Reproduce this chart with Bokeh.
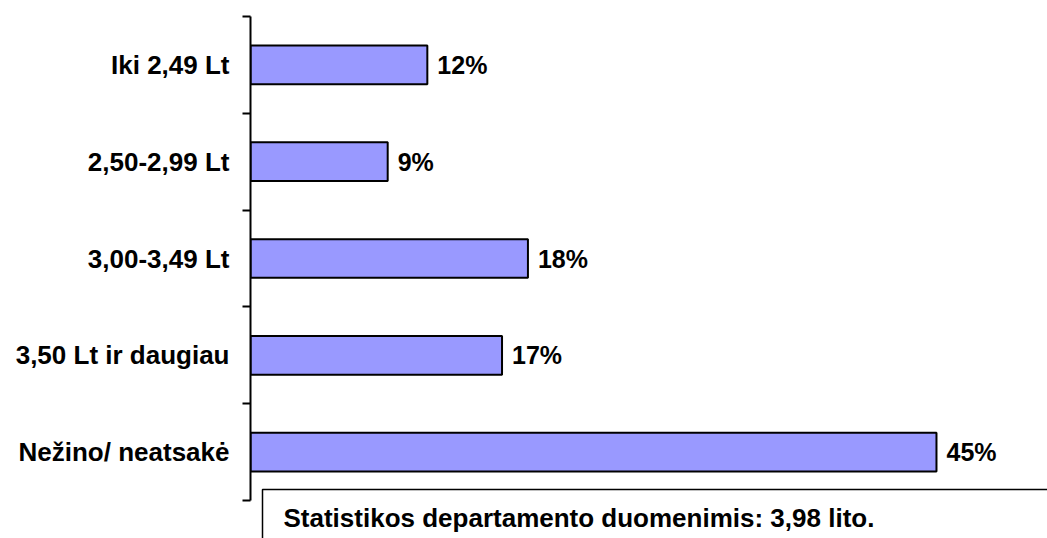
from bokeh.plotting import figure
from bokeh.models import Range1d, FixedTicker, Label, ColumnDataSource
from bokeh.embed import file_html
from bokeh.resources import INLINE
from bokeh.core.properties import value

categories = ["Iki 2,49 Lt", "2,50-2,99 Lt", "3,00-3,49 Lt", "3,50 Lt ir daugiau", "Nežino/ neatsakė"]
values = [11.6, 9.0, 18.2, 16.5, 45.0]
value_labels = ["12%", "9%", "18%", "17%", "45%"]
note = "Statistikos departamento duomenimis: 3,98 lito."

n = len(categories)
pos = [n - i - 0.5 for i in range(n)]

FONT = "Liberation Sans"

# frame: top at 16px, category band ~96.8px, frame runs to the canvas bottom
band = 96.8
width, height = 1047, 538
frame_h = height - 16
y_start = n - frame_h / band
px_per_unit = 15.244
x_end = (width - 250) / px_per_unit

p = figure(width=width, height=height, output_backend="svg", toolbar_location=None,
           x_range=Range1d(0, x_end), y_range=Range1d(y_start, n),
           x_axis_location=None, min_border_left=250, min_border_right=0,
           min_border_top=16, min_border_bottom=0)
p.outline_line_color = None
p.xgrid.visible = False
p.ygrid.visible = False
p.background_fill_color = "white"
p.border_fill_color = "white"

src = ColumnDataSource(dict(y=pos, v=values, lab=value_labels))
p.hbar(y="y", left=0, right="v", height=0.4, source=src,
       fill_color="#9999FF", line_color="black", line_width=2)
p.text(x="v", y="y", text="lab", source=src, x_offset=10,
       text_baseline="middle", text_align="left",
       text_font=value(FONT), text_font_style="bold", text_font_size="25px",
       text_color="black")

ax = p.yaxis[0]
ax.bounds = (0, n)
ax.ticker = FixedTicker(ticks=pos, minor_ticks=list(range(n + 1)))
ax.major_label_overrides = {pv: c for pv, c in zip(pos, categories)}
ax.major_tick_out = 0
ax.major_tick_in = 0
ax.minor_tick_out = 8
ax.minor_tick_in = 0
ax.minor_tick_line_color = "black"
ax.minor_tick_line_width = 2
ax.axis_line_width = 2
ax.axis_line_color = "black"
ax.major_label_standoff = 13
ax.major_label_text_font = FONT
ax.major_label_text_font_style = "bold"
ax.major_label_text_font_size = "26px"
ax.major_label_text_color = "black"

lbl = Label(x=12, y=height - 489, x_units="screen", y_units="screen", text=note,
            text_align="left", text_baseline="top",
            text_font=FONT, text_font_style="bold", text_font_size="26px",
            text_color="black", border_line_color="black", border_line_width=1.5,
            background_fill_color="white", padding=(21, 400, 13, 60))
p.add_layout(lbl)

open("out.html", "w").write(file_html(p, INLINE))
